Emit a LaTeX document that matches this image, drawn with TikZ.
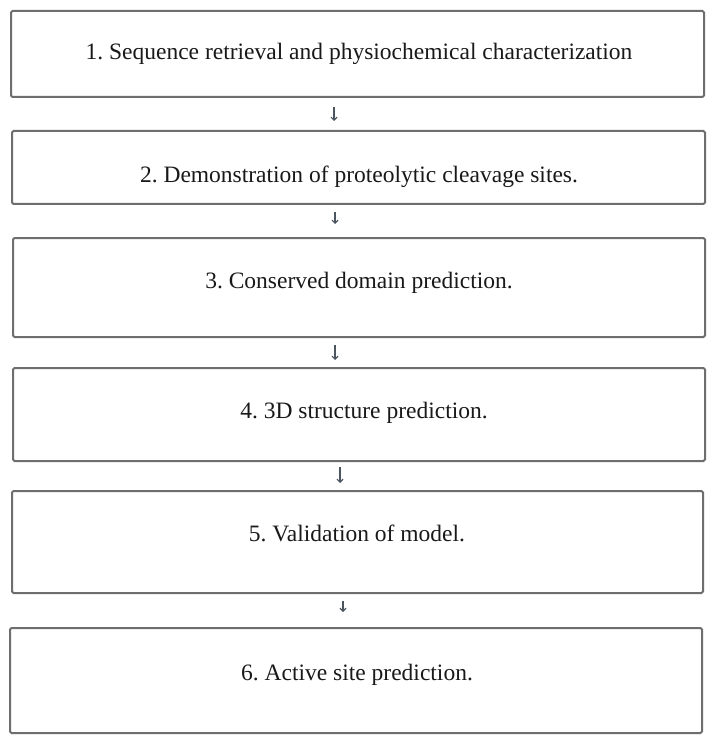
\documentclass[tikz,border=0pt]{standalone}
\usepackage{fontspec}
\setmainfont{Liberation Serif}
\usetikzlibrary{arrows.meta}
\definecolor{boxgray}{HTML}{6E6E6E}
\definecolor{arrowcol}{HTML}{4A5560}
\frenchspacing
\tikzset{
  stepbox/.style={draw=boxgray, line width=2pt, rounded corners=1.5pt, fill=white, inner sep=0pt},
  steptext/.style={font=\fontsize{23.5}{27}\selectfont, text=black!90, inner sep=0pt, anchor=base},
  flowarrow/.style={draw=arrowcol, line width=1.3pt, -{Straight Barb[length=3pt,width=6pt,line width=1.2pt]}},
}
\begin{document}
\begin{tikzpicture}[x=1pt,y=-1pt]
\useasboundingbox (0,0) rectangle (716,751);
\fill[white] (0,0) rectangle (716,751);
\node[stepbox, minimum width=693pt, minimum height=86pt] (b1) at (357.5,54) {};
\node[stepbox, minimum width=693pt, minimum height=73pt] (b2) at (358.5,167.5) {};
\node[stepbox, minimum width=692pt, minimum height=99pt] (b3) at (359,287.5) {};
\node[stepbox, minimum width=692pt, minimum height=93pt] (b4) at (359,414.5) {};
\node[stepbox, minimum width=691pt, minimum height=102pt] (b5) at (357.5,542) {};
\node[stepbox, minimum width=692pt, minimum height=105pt] (b6) at (356,680.5) {};
\node[steptext] (t1) at (359,60) {1. Sequence retrieval and physiochemical characterization};
\node[steptext] (t2) at (359,183) {2. Demonstration of proteolytic cleavage sites.};
\node[steptext] (t3) at (359,288) {3. Conserved domain prediction.};
\node[steptext] (t4) at (364,418) {4. 3D structure prediction.};
\node[steptext] (t5) at (357,541) {5. Validation of model.};
\node[steptext] (t6) at (357,680) {6. Active site prediction.};
\draw[flowarrow, shorten <=9pt, shorten >=9pt] (b1.south -| 334,0) -- (b2.north -| 334,0);
\draw[flowarrow, shorten <=7pt, shorten >=13pt] (b2.south -| 335,0) -- (b3.north -| 335,0);
\draw[flowarrow, shorten <=7pt, shorten >=7pt] (b3.south -| 335,0) -- (b4.north -| 335,0);
\draw[flowarrow, shorten <=5pt, shorten >=7pt] (b4.south -| 340,0) -- (b5.north -| 340,0);
\draw[flowarrow, shorten <=7pt, shorten >=15pt] (b5.south -| 343,0) -- (b6.north -| 343,0);
\end{tikzpicture}
\end{document}
